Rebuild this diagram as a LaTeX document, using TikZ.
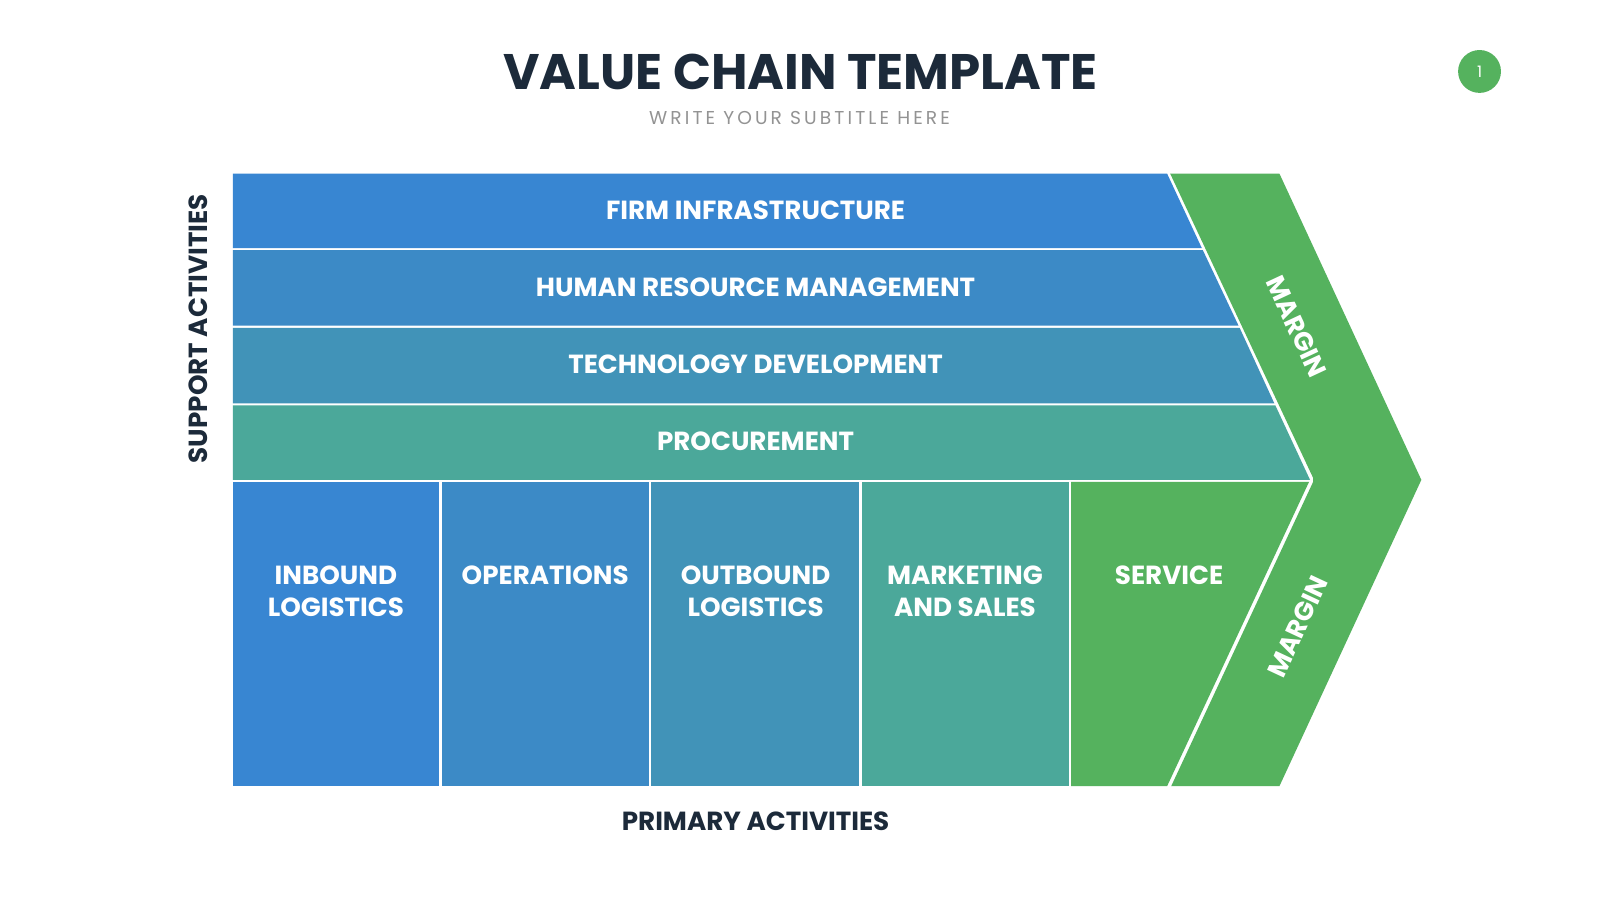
\documentclass[tikz,border=0pt]{standalone}
\usepackage{fontspec}
\setmainfont{Poppins}
\definecolor{cA}{HTML}{3886D2}
\definecolor{cB}{HTML}{3C8AC6}
\definecolor{cC}{HTML}{4193B8}
\definecolor{cD}{HTML}{4BA89A}
\definecolor{cG}{HTML}{55B25E}
\definecolor{dark}{HTML}{1C2A3A}
\begin{document}
\begin{tikzpicture}[x=0.0102105cm,y=-0.0102105cm,
 lbl/.style={text=white,font=\bfseries\fontsize{7.45}{8.9}\selectfont,align=center},
 sec/.style={text=dark,font=\bfseries\fontsize{7.45}{9}\selectfont}]
\useasboundingbox (0,0) rectangle (1567,881.4);
\fill[white] (0,0) rectangle (1567,881.4);
\node[text=dark,font=\bfseries\fontsize{14.2}{17}\selectfont] (title) at (784,70) {VALUE CHAIN TEMPLATE};
\node[text=gray!85,font=\fontsize{5.3}{7}\selectfont] (sub) at (783,116) {W\,R\,I\,T\,E\,\ Y\,O\,U\,R\,\ S\,U\,B\,T\,I\,T\,L\,E\,\ H\,E\,R\,E};
\fill[cG] (1449,70) circle (21);
\node[text=white,font=\fontsize{4.5}{5}\selectfont] (pg) at (1449,70) {1};
% support bands
\fill[cA] (228,170) -- (1143,170) -- (1177,243) -- (228,243) -- cycle;
\fill[cB] (228,245) -- (1178,245) -- (1213,319) -- (228,319) -- cycle;
\fill[cC] (228,321) -- (1214,321) -- (1248,395) -- (228,395) -- cycle;
\fill[cD] (228,397) -- (1249,397) -- (1283,470) -- (228,470) -- cycle;
% primary
\fill[cA] (228,472) rectangle (430,770);
\fill[cB] (433,472) rectangle (636,770);
\fill[cC] (638,472) rectangle (841,770);
\fill[cD] (844,472) rectangle (1047,770);
\fill[cG] (1049,472) -- (1282,472) -- (1143,770) -- (1049,770) -- cycle;
% margin
\fill[cG] (1146,170) -- (1253,170) -- (1392,470) -- (1253,770) -- (1147,770) -- (1286,472) -- (1286,468) -- cycle;
\node[lbl] (f) at (740,206) {FIRM INFRASTRUCTURE};
\node[lbl] (h) at (740,281) {HUMAN RESOURCE MANAGEMENT};
\node[lbl] (t) at (740,357) {TECHNOLOGY DEVELOPMENT};
\node[lbl] (p) at (740,432) {PROCUREMENT};
\node[lbl] (i) at (329,579) {INBOUND\\LOGISTICS};
\node[lbl] (o) at (534,563) {OPERATIONS};
\node[lbl] (ob) at (740,579) {OUTBOUND\\LOGISTICS};
\node[lbl] (m) at (945,579) {MARKETING\\AND SALES};
\node[lbl] (s) at (1145,563) {SERVICE};
\node[lbl,rotate=-65,inner sep=0pt] (m1) at (1270,320) {MARGIN};
\node[lbl,rotate=65,inner sep=0pt] (m2) at (1271,614) {MARGIN};
\node[sec,rotate=90] (sa) at (194,322) {SUPPORT ACTIVITIES};
\node[sec] (pa) at (740,804) {PRIMARY ACTIVITIES};
\end{tikzpicture}
\end{document}
